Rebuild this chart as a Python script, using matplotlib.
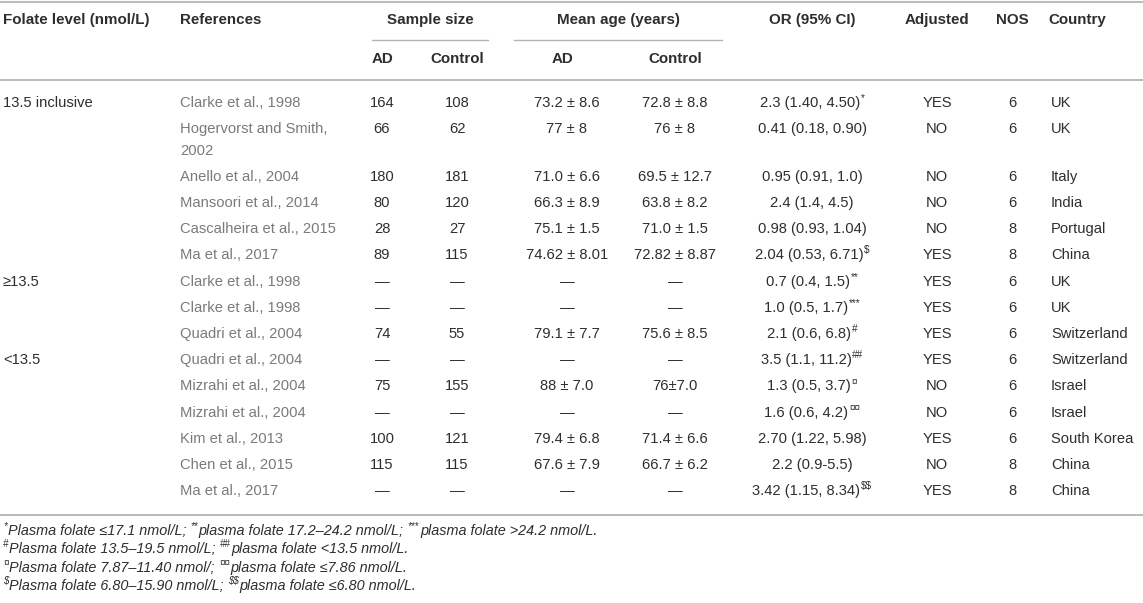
import matplotlib
matplotlib.use("Agg")
import matplotlib.pyplot as plt

plt.rcParams['font.family'] = ['Liberation Sans', 'DejaVu Sans']

# table content
folate_levels = ["13.5 inclusive", "", "", "", "", "", "≥13.5", "", "", "<13.5", "", "", "", "", ""]
references = ["Clarke et al., 1998", "Hogervorst and Smith,\n2002", "Anello et al., 2004",
              "Mansoori et al., 2014", "Cascalheira et al., 2015", "Ma et al., 2017",
              "Clarke et al., 1998", "Clarke et al., 1998", "Quadri et al., 2004",
              "Quadri et al., 2004", "Mizrahi et al., 2004", "Mizrahi et al., 2004",
              "Kim et al., 2013", "Chen et al., 2015", "Ma et al., 2017"]
n_ad = ["164", "66", "180", "80", "28", "89", "—", "—", "74", "—", "75", "—", "100", "115", "—"]
n_control = ["108", "62", "181", "120", "27", "115", "—", "—", "55", "—", "155", "—", "121", "115", "—"]
age_ad = ["73.2 ± 8.6", "77 ± 8", "71.0 ± 6.6", "66.3 ± 8.9", "75.1 ± 1.5", "74.62 ± 8.01",
          "—", "—", "79.1 ± 7.7", "—", "88 ± 7.0", "—", "79.4 ± 6.8", "67.6 ± 7.9", "—"]
age_control = ["72.8 ± 8.8", "76 ± 8", "69.5 ± 12.7", "63.8 ± 8.2", "71.0 ± 1.5", "72.82 ± 8.87",
               "—", "—", "75.6 ± 8.5", "—", "76±7.0", "—", "71.4 ± 6.6", "66.7 ± 6.2", "—"]
or_ci = ["2.3 (1.40, 4.50)", "0.41 (0.18, 0.90)", "0.95 (0.91, 1.0)", "2.4 (1.4, 4.5)",
         "0.98 (0.93, 1.04)", "2.04 (0.53, 6.71)", "0.7 (0.4, 1.5)", "1.0 (0.5, 1.7)",
         "2.1 (0.6, 6.8)", "3.5 (1.1, 11.2)", "1.3 (0.5, 3.7)", "1.6 (0.6, 4.2)",
         "2.70 (1.22, 5.98)", "2.2 (0.9-5.5)", "3.42 (1.15, 8.34)"]
or_marks = ["*", "", "", "", "", "$", "**", "***", "#", "##", "¤", "¤¤", "", "", "$$"]
adjusted = ["YES", "NO", "NO", "NO", "NO", "YES", "YES", "YES", "YES", "YES", "NO", "NO", "YES", "NO", "YES"]
nos = ["6", "6", "6", "6", "8", "8", "6", "6", "6", "6", "6", "6", "6", "8", "8"]
country = ["UK", "UK", "Italy", "India", "Portugal", "China", "UK", "UK", "Switzerland",
           "Switzerland", "Israel", "Israel", "South Korea", "China", "China"]

footnotes = [
    [("*", True), ("Plasma folate ≤17.1 nmol/L; ", False), ("**", True),
     ("plasma folate 17.2–24.2 nmol/L; ", False), ("***", True), ("plasma folate >24.2 nmol/L.", False)],
    [("#", True), ("Plasma folate 13.5–19.5 nmol/L; ", False), ("##", True),
     ("plasma folate <13.5 nmol/L.", False)],
    [("¤", True), ("Plasma folate 7.87–11.40 nmol/; ", False), ("¤¤", True),
     ("plasma folate ≤7.86 nmol/L.", False)],
    [("$", True), ("Plasma folate 6.80–15.90 nmol/L; ", False), ("$$", True),
     ("plasma folate ≤6.80 nmol/L.", False)],
]

W, H = 1143, 603
fig = plt.figure(figsize=(W / 100, H / 100), dpi=100)
ax = fig.add_axes([0, 0, 1, 1])
ax.set_xlim(0, W)
ax.set_ylim(H, 0)
ax.axis('off')

FS = 10.65
HFS = 10.9
dark = '#2e2e2e'
grey = '#7a7a7a'
rule = '#b4b4b4'
renderer = fig.canvas.get_renderer()


def txt(x, y, s, ha='left', color=dark, weight='normal', size=FS, style='normal'):
    return ax.text(x, y, s, ha=ha, va='center', color=color, fontsize=size,
                   fontweight=weight, fontstyle=style, parse_math=False)


def width_of(t):
    return t.get_window_extent(renderer).width


def with_mark(x, y, s, mark):
    t = txt(x, y, s, ha='center')
    if mark:
        w = width_of(t)
        ms = txt(x, y - 5, mark, size=FS * 0.68)
        mw = width_of(ms)
        t.set_x(x - mw / 2)
        ms.set_x(x - mw / 2 + w / 2 + 0.5)


# rules
ax.plot([0, W], [2, 2], color=rule, lw=1.3)
ax.plot([0, W], [80, 80], color=rule, lw=1.3)
ax.plot([372, 488], [40, 40], color=rule, lw=1.0)
ax.plot([514, 722], [40, 40], color=rule, lw=1.0)
ax.plot([0, W], [515, 515], color=rule, lw=1.3)

# column positions
x_level, x_ref = 3, 180
x_nad, x_nctl = 382, 457
x_aad, x_actl = 567, 675
x_or, x_adj, x_nos, x_cty = 812, 937, 1012, 1051

# header
hy1, hy2 = 20, 59
txt(x_level, hy1, "Folate level (nmol/L)", weight='bold', size=HFS)
txt(x_ref, hy1, "References", weight='bold', size=HFS)
txt(430, hy1, "Sample size", ha='center', weight='bold', size=HFS)
txt(618, hy1, "Mean age (years)", ha='center', weight='bold', size=HFS)
txt(x_or, hy1, "OR (95% CI)", ha='center', weight='bold', size=HFS)
txt(x_adj, hy1, "Adjusted", ha='center', weight='bold', size=HFS)
txt(x_nos, hy1, "NOS", ha='center', weight='bold', size=HFS)
txt(x_cty - 3, hy1, "Country", weight='bold', size=HFS)
for xx, lab in [(x_nad, "AD"), (x_nctl, "Control"), (x_aad - 5, "AD"), (x_actl, "Control")]:
    txt(xx, hy2, lab, ha='center', weight='bold', size=HFS)

# body rows
y = 103
row_step, line_step = 26.2, 21.5
for i in range(len(references)):
    txt(x_level, y, folate_levels[i])
    lines = references[i].split("\n")
    for k, ln in enumerate(lines):
        txt(x_ref, y + k * line_step, ln, color=grey)
    txt(x_nad, y, n_ad[i], ha='center')
    txt(x_nctl, y, n_control[i], ha='center')
    txt(x_aad, y, age_ad[i], ha='center')
    txt(x_actl, y, age_control[i], ha='center')
    with_mark(x_or, y, or_ci[i], or_marks[i])
    txt(x_adj, y, adjusted[i], ha='center')
    txt(x_nos, y, nos[i], ha='center')
    txt(x_cty, y, country[i])
    y += row_step + (len(lines) - 1) * line_step

# footnotes
fy = 531
for segs in footnotes:
    x = 3
    for s, sup in segs:
        if sup:
            t = txt(x, fy - 5, s, size=FS * 0.66, style='italic')
        else:
            t = txt(x, fy, s, style='italic', size=10.4)
        x += width_of(t) + (1 if sup else 0)
    fy += 18.3

fig.savefig("out.png", dpi=100)
